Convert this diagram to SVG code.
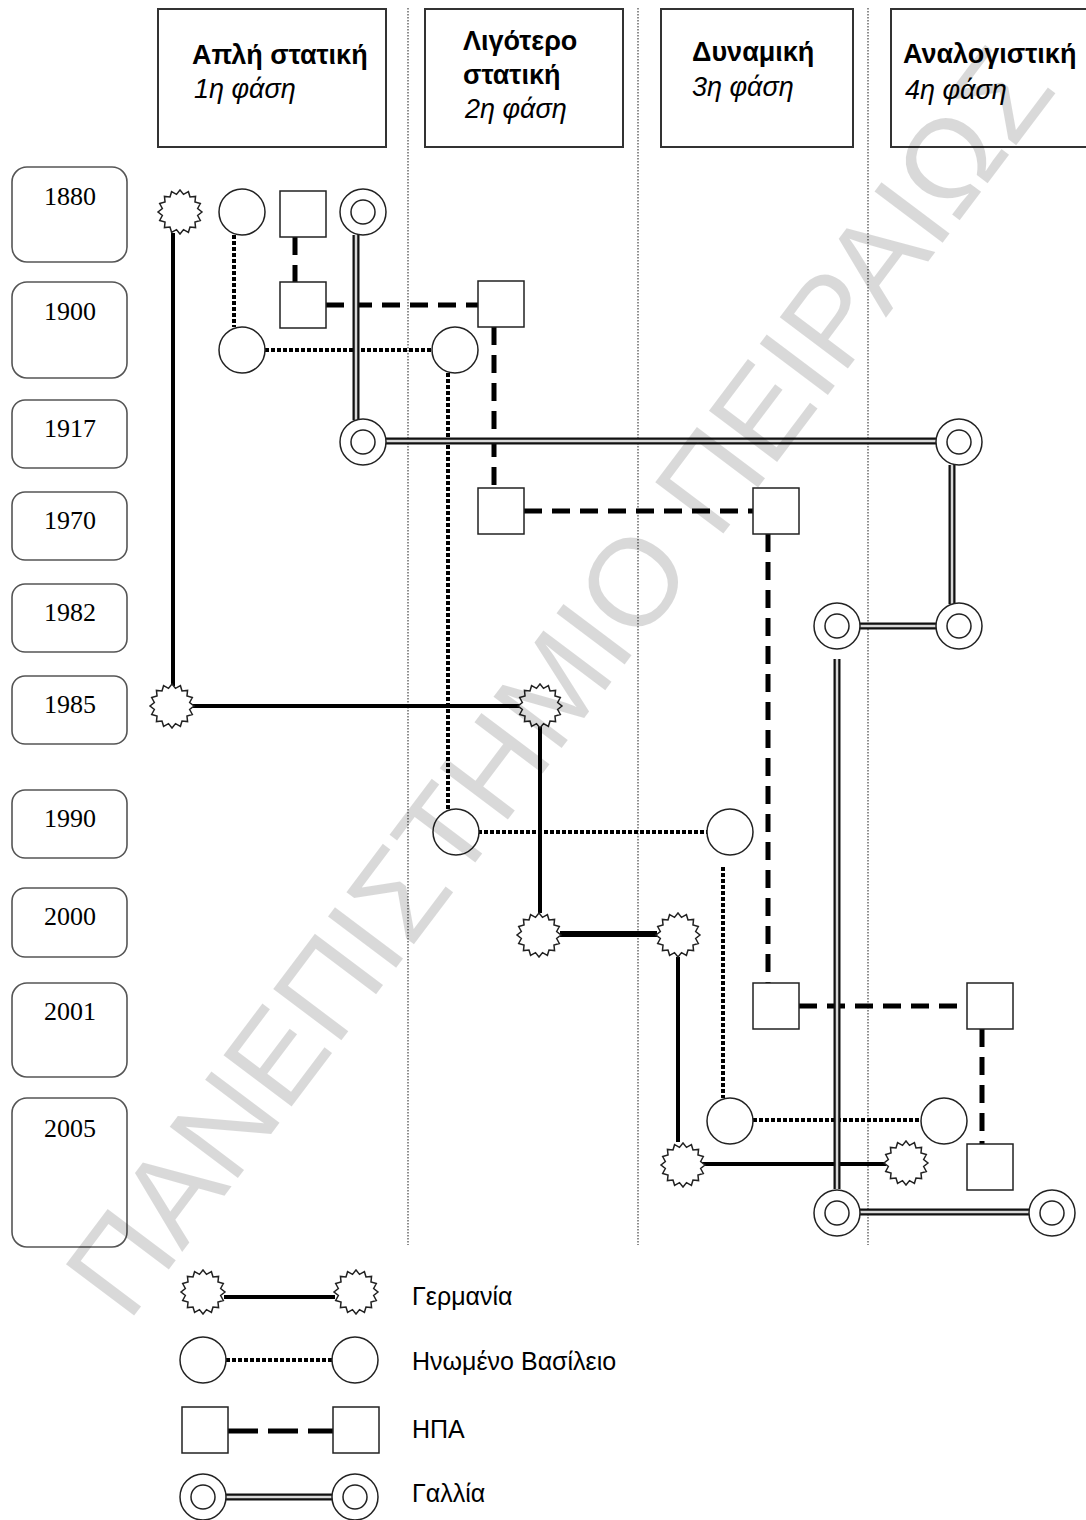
<svg xmlns="http://www.w3.org/2000/svg" xmlns:xlink="http://www.w3.org/1999/xlink" width="1086" height="1520" viewBox="0 0 1086 1520">
<style>
.hdr{fill:#fff;stroke:#333;stroke-width:2}
.ht{font-family:"Liberation Sans",Arial,sans-serif;font-size:27px;font-weight:bold;fill:#000}
.hi{font-family:"Liberation Sans",Arial,sans-serif;font-size:27px;font-style:italic;fill:#000}
.yr{fill:#fff;stroke:#555;stroke-width:1.6}
.yt{font-family:"Liberation Serif","Times New Roman",serif;font-size:26px;fill:#000;text-anchor:middle}
.sep{stroke:#444;stroke-width:1.2;stroke-dasharray:1.5 1.5;fill:none}
.de{stroke:#000;stroke-width:4;fill:none}
.uk{stroke:#000;stroke-width:4;stroke-dasharray:4 2;fill:none}
.us{stroke:#000;stroke-width:5;stroke-dasharray:18 10;fill:none}
.fro{stroke:#111;stroke-width:7;fill:none}
.fri{stroke:#d8d8d8;stroke-width:2.5;fill:none}
.nd{fill:#fff;stroke:#222;stroke-width:1.5}
.lt{font-family:"Liberation Sans",Arial,sans-serif;font-size:25px;fill:#000}
.wm{font-family:"Liberation Sans",Arial,sans-serif;font-size:124px;fill:#000;fill-opacity:0.15;text-anchor:middle}
</style>
<defs>
<polygon id="star" class="nd" points="22,0 17.65,3.51 20.33,8.42 14.97,10 15.56,15.56 10,14.97 8.42,20.33 3.51,17.65 0,22 -3.51,17.65 -8.42,20.33 -10,14.97 -15.56,15.56 -14.97,10 -20.33,8.42 -17.65,3.51 -22,0 -17.65,-3.51 -20.33,-8.42 -14.97,-10 -15.56,-15.56 -10,-14.97 -8.42,-20.33 -3.51,-17.65 0,-22 3.51,-17.65 8.42,-20.33 10,-14.97 15.56,-15.56 14.97,-10 20.33,-8.42 17.65,-3.51"/>
<circle id="circ" class="nd" cx="0" cy="0" r="23"/>
<rect id="sq" class="nd" x="-23" y="-23" width="46" height="46"/>
<g id="dbl"><circle class="nd" cx="0" cy="0" r="23"/><circle class="nd" cx="0" cy="0" r="12"/></g>
</defs>

<g id="separators">
<line class="sep" x1="408" y1="8" x2="408" y2="1245"/>
<line class="sep" x1="638" y1="8" x2="638" y2="1245"/>
<line class="sep" x1="868" y1="8" x2="868" y2="1245"/>
</g>

<g id="phase1"><rect class="hdr" x="158" y="9" width="228" height="138"/>
<text class="ht" x="192" y="64">Απλή στατική</text><text class="hi" x="194" y="98">1η φάση</text></g>
<g id="phase2"><rect class="hdr" x="425" y="9" width="198" height="138"/>
<text class="ht" x="463" y="50">Λιγότερο</text><text class="ht" x="463" y="84">στατική</text><text class="hi" x="465" y="118">2η φάση</text></g>
<g id="phase3"><rect class="hdr" x="661" y="9" width="192" height="138"/>
<text class="ht" x="692" y="61">Δυναμική</text><text class="hi" x="692" y="96">3η φάση</text></g>
<g id="phase4"><rect class="hdr" x="891" y="9" width="210" height="138"/>
<text class="ht" x="903" y="63">Αναλογιστική</text><text class="hi" x="905" y="99">4η φάση</text></g>

<g id="y1880"><rect class="yr" x="12" y="167" width="115" height="95" rx="15"/><text class="yt" x="70" y="205">1880</text></g>
<g id="y1900"><rect class="yr" x="12" y="282" width="115" height="96" rx="15"/><text class="yt" x="70" y="320">1900</text></g>
<g id="y1917"><rect class="yr" x="12" y="400" width="115" height="68" rx="13"/><text class="yt" x="70" y="437">1917</text></g>
<g id="y1970"><rect class="yr" x="12" y="492" width="115" height="68" rx="13"/><text class="yt" x="70" y="529">1970</text></g>
<g id="y1982"><rect class="yr" x="12" y="584" width="115" height="68" rx="13"/><text class="yt" x="70" y="621">1982</text></g>
<g id="y1985"><rect class="yr" x="12" y="676" width="115" height="68" rx="13"/><text class="yt" x="70" y="713">1985</text></g>
<g id="y1990"><rect class="yr" x="12" y="790" width="115" height="68" rx="13"/><text class="yt" x="70" y="827">1990</text></g>
<g id="y2000"><rect class="yr" x="12" y="888" width="115" height="69" rx="13"/><text class="yt" x="70" y="925">2000</text></g>
<g id="y2001"><rect class="yr" x="12" y="983" width="115" height="94" rx="15"/><text class="yt" x="70" y="1020">2001</text></g>
<g id="y2005"><rect class="yr" x="12" y="1098" width="115" height="149" rx="15"/><text class="yt" x="70" y="1137">2005</text></g>

<g id="connectors">
<path class="de" d="M173,233 V686"/>
<path class="de" d="M192,706 H520"/>
<path class="de" d="M540,727 V913"/>
<path class="de" d="M560,934 H657" style="stroke-width:6"/>
<path class="de" d="M678,957 V1142"/>
<path class="de" d="M700,1164 H886"/>
<path class="uk" d="M234,235 V327"/>
<path class="uk" d="M265,350 H432"/>
<path class="uk" d="M448,373 V809"/>
<path class="uk" d="M478,832 H707"/>
<path class="uk" d="M723,867 V1098"/>
<path class="uk" d="M753,1120 H921"/>
<path class="us" d="M295,237 V282"/>
<path class="us" d="M326,305 H478"/>
<path class="us" d="M494,327 V488"/>
<path class="us" d="M524,511 H753"/>
<path class="us" d="M768,534 V983"/>
<path class="us" d="M799,1006 H967"/>
<path class="us" d="M982,1029 V1144"/>
<g id="france-lines">
<path class="fro" d="M356,235 V420 M385,441 H936 M952,465 V604 M860,626 H936 M837,659 V1189 M860,1212 H1030"/>
<path class="fri" d="M356,235 V420 M385,441 H936 M952,465 V604 M860,626 H936 M837,659 V1189 M860,1212 H1030"/>
</g>
</g>

<g id="de1880"><use xlink:href="#star" x="180" y="212"/></g>
<g id="de1985a"><use xlink:href="#star" x="172" y="706"/></g>
<g id="de1985b"><use xlink:href="#star" x="540" y="706"/></g>
<g id="de2000a"><use xlink:href="#star" x="539" y="935"/></g>
<g id="de2000b"><use xlink:href="#star" x="678" y="935"/></g>
<g id="de2005a"><use xlink:href="#star" x="683" y="1165"/></g>
<g id="de2005b"><use xlink:href="#star" x="906" y="1163"/></g>

<g id="uk1880"><use xlink:href="#circ" x="242" y="212"/></g>
<g id="uk1900a"><use xlink:href="#circ" x="242" y="350"/></g>
<g id="uk1900b"><use xlink:href="#circ" x="455" y="350"/></g>
<g id="uk1990a"><use xlink:href="#circ" x="456" y="832"/></g>
<g id="uk1990b"><use xlink:href="#circ" x="730" y="832"/></g>
<g id="uk2005a"><use xlink:href="#circ" x="730" y="1121"/></g>
<g id="uk2005b"><use xlink:href="#circ" x="944" y="1121"/></g>

<g id="us1880"><use xlink:href="#sq" x="303" y="214"/></g>
<g id="us1900a"><use xlink:href="#sq" x="303" y="305"/></g>
<g id="us1900b"><use xlink:href="#sq" x="501" y="304"/></g>
<g id="us1970a"><use xlink:href="#sq" x="501" y="511"/></g>
<g id="us1970b"><use xlink:href="#sq" x="776" y="511"/></g>
<g id="us2001a"><use xlink:href="#sq" x="776" y="1006"/></g>
<g id="us2001b"><use xlink:href="#sq" x="990" y="1006"/></g>
<g id="us2005"><use xlink:href="#sq" x="990" y="1167"/></g>

<g id="fr1880"><use xlink:href="#dbl" x="363" y="212"/></g>
<g id="fr1917a"><use xlink:href="#dbl" x="363" y="442"/></g>
<g id="fr1917b"><use xlink:href="#dbl" x="959" y="442"/></g>
<g id="fr1982a"><use xlink:href="#dbl" x="837" y="626"/></g>
<g id="fr1982b"><use xlink:href="#dbl" x="959" y="626"/></g>
<g id="fr2005a"><use xlink:href="#dbl" x="837" y="1213"/></g>
<g id="fr2005b"><use xlink:href="#dbl" x="1052" y="1213"/></g>

<g id="legend">
<g id="leg-de"><path class="de" d="M224,1297 H335"/><use xlink:href="#star" x="203" y="1292"/><use xlink:href="#star" x="356" y="1292"/><text class="lt" x="412" y="1305">Γερμανία</text></g>
<g id="leg-uk"><path class="uk" d="M226,1360 H332"/><use xlink:href="#circ" x="203" y="1360"/><use xlink:href="#circ" x="355" y="1360"/><text class="lt" x="412" y="1370">Ηνωμένο Βασίλειο</text></g>
<g id="leg-us"><path class="us" d="M228,1431 H333" style="stroke-dasharray:30 10"/><use xlink:href="#sq" x="205" y="1430"/><use xlink:href="#sq" x="356" y="1430"/><text class="lt" x="412" y="1438">ΗΠΑ</text></g>
<g id="leg-fr"><path class="fro" d="M226,1497 H332"/><path class="fri" d="M226,1497 H332"/><use xlink:href="#dbl" x="203" y="1497"/><use xlink:href="#dbl" x="355" y="1497"/><text class="lt" x="412" y="1502">Γαλλία</text></g>
</g>

<g id="watermark"><text class="wm" transform="translate(558,680) rotate(-53)" x="0" y="44">ΠΑΝΕΠΙΣΤΗΜΙΟ ΠΕΙΡΑΙΩΣ</text></g>
</svg>
